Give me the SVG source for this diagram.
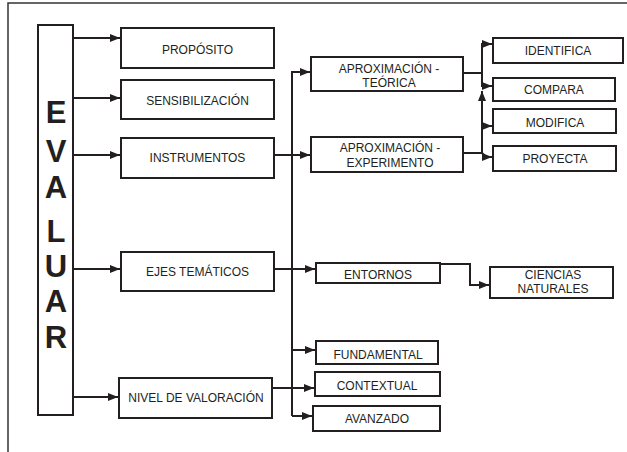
<svg xmlns="http://www.w3.org/2000/svg" width="627" height="452" viewBox="0 0 627 452">
<defs>
<marker id="ah" markerUnits="userSpaceOnUse" markerWidth="11" markerHeight="9" refX="10" refY="4" orient="auto">
<path d="M0,0 L10,4 L0,8 z" fill="#231f20"/>
</marker>
<style>
.box{fill:#fff;stroke:#231f20;stroke-width:2}
.t{font-family:"Liberation Sans",Arial,sans-serif;font-size:12px;fill:#231f20;text-anchor:middle}
.big{font-family:"Liberation Sans",Arial,sans-serif;font-size:31px;font-weight:bold;fill:#231f20;text-anchor:middle}
.c{fill:none;stroke:#231f20;stroke-width:2}
.ca{fill:none;stroke:#231f20;stroke-width:2;marker-end:url(#ah)}
</style>
</defs>
<rect width="627" height="452" fill="#fff"/>
<path d="M627,3 H8 V452" fill="none" stroke="#333" stroke-width="1.5"/>

<g id="connectors">
<path class="ca" d="M73,38 H120"/>
<path class="ca" d="M73,98 H120"/>
<path class="ca" d="M73,155 H120"/>
<path class="ca" d="M73,269 H120"/>
<path class="ca" d="M73,397 H118"/>
<path class="ca" d="M274,155 H310"/>
<path class="ca" d="M292,416 V72 H310"/>
<path class="ca" d="M292,350 H315"/>
<path class="ca" d="M292,416 H312"/>
<path class="ca" d="M274,269 H315"/>
<path class="ca" d="M272,388 H314"/>
<path class="ca" d="M463,73 H482 V44 H492"/>
<path class="ca" d="M482,73 V86 H492"/>
<path class="ca" d="M463,153 H482 V91"/>
<path class="ca" d="M482,126 H492"/>
<path class="ca" d="M482,153 L486,157 H492"/>
<path class="ca" d="M440,264 H470 V285 H489"/>
</g>

<g id="evaluar">
<rect class="box" x="38" y="25" width="35" height="390"/>
<text class="big" x="56" y="123">E</text>
<text class="big" x="56" y="162">V</text>
<text class="big" x="56" y="198">A</text>
<text class="big" x="56" y="242">L</text>
<text class="big" x="56" y="277">U</text>
<text class="big" x="56" y="312">A</text>
<text class="big" x="56" y="348">R</text>
</g>

<g id="proposito"><rect class="box" x="121" y="28" width="153" height="40"/><text class="t" x="197.5" y="54">PROPÓSITO</text></g>
<g id="sensibilizacion"><rect class="box" x="121" y="80" width="153" height="39"/><text class="t" x="197.5" y="105">SENSIBILIZACIÓN</text></g>
<g id="instrumentos"><rect class="box" x="121" y="138" width="153" height="40"/><text class="t" x="197.5" y="162">INSTRUMENTOS</text></g>
<g id="ejes"><rect class="box" x="121" y="252" width="153" height="39"/><text class="t" x="197.5" y="276">EJES TEMÁTICOS</text></g>
<g id="nivel"><rect class="box" x="119" y="378" width="153" height="40"/><text class="t" x="196" y="402">NIVEL DE VALORACIÓN</text></g>

<g id="aprox-teorica"><rect class="box" x="311" y="57" width="152" height="34"/><text class="t" x="389" y="73">APROXIMACIÓN -</text><text class="t" x="389" y="87">TEÓRICA</text></g>
<g id="aprox-experimento"><rect class="box" x="311" y="137" width="152" height="35"/><text class="t" x="390" y="152">APROXIMACIÓN -</text><text class="t" x="390" y="167">EXPERIMENTO</text></g>

<g id="identifica"><rect class="box" x="493" y="38" width="130" height="25"/><text class="t" x="558" y="55">IDENTIFICA</text></g>
<g id="compara"><rect class="box" x="493" y="78" width="122" height="23"/><text class="t" x="554" y="94">COMPARA</text></g>
<g id="modifica"><rect class="box" x="493" y="109" width="123" height="24"/><text class="t" x="555" y="127">MODIFICA</text></g>
<g id="proyecta"><rect class="box" x="493" y="146" width="123" height="25"/><text class="t" x="555" y="163">PROYECTA</text></g>

<g id="entornos"><rect class="box" x="316" y="263" width="124" height="20"/><text class="t" x="378" y="279">ENTORNOS</text></g>
<g id="ciencias"><rect class="box" x="490" y="267" width="123" height="31"/><text class="t" x="553" y="279">CIENCIAS</text><text class="t" x="553" y="293">NATURALES</text></g>
<g id="fundamental"><rect class="box" x="316" y="341" width="122" height="23"/><text class="t" x="378" y="359">FUNDAMENTAL</text></g>
<g id="contextual"><rect class="box" x="315" y="372" width="125" height="24"/><text class="t" x="377" y="390">CONTEXTUAL</text></g>
<g id="avanzado"><rect class="box" x="313" y="406" width="127" height="25"/><text class="t" x="377" y="423">AVANZADO</text></g>
</svg>
